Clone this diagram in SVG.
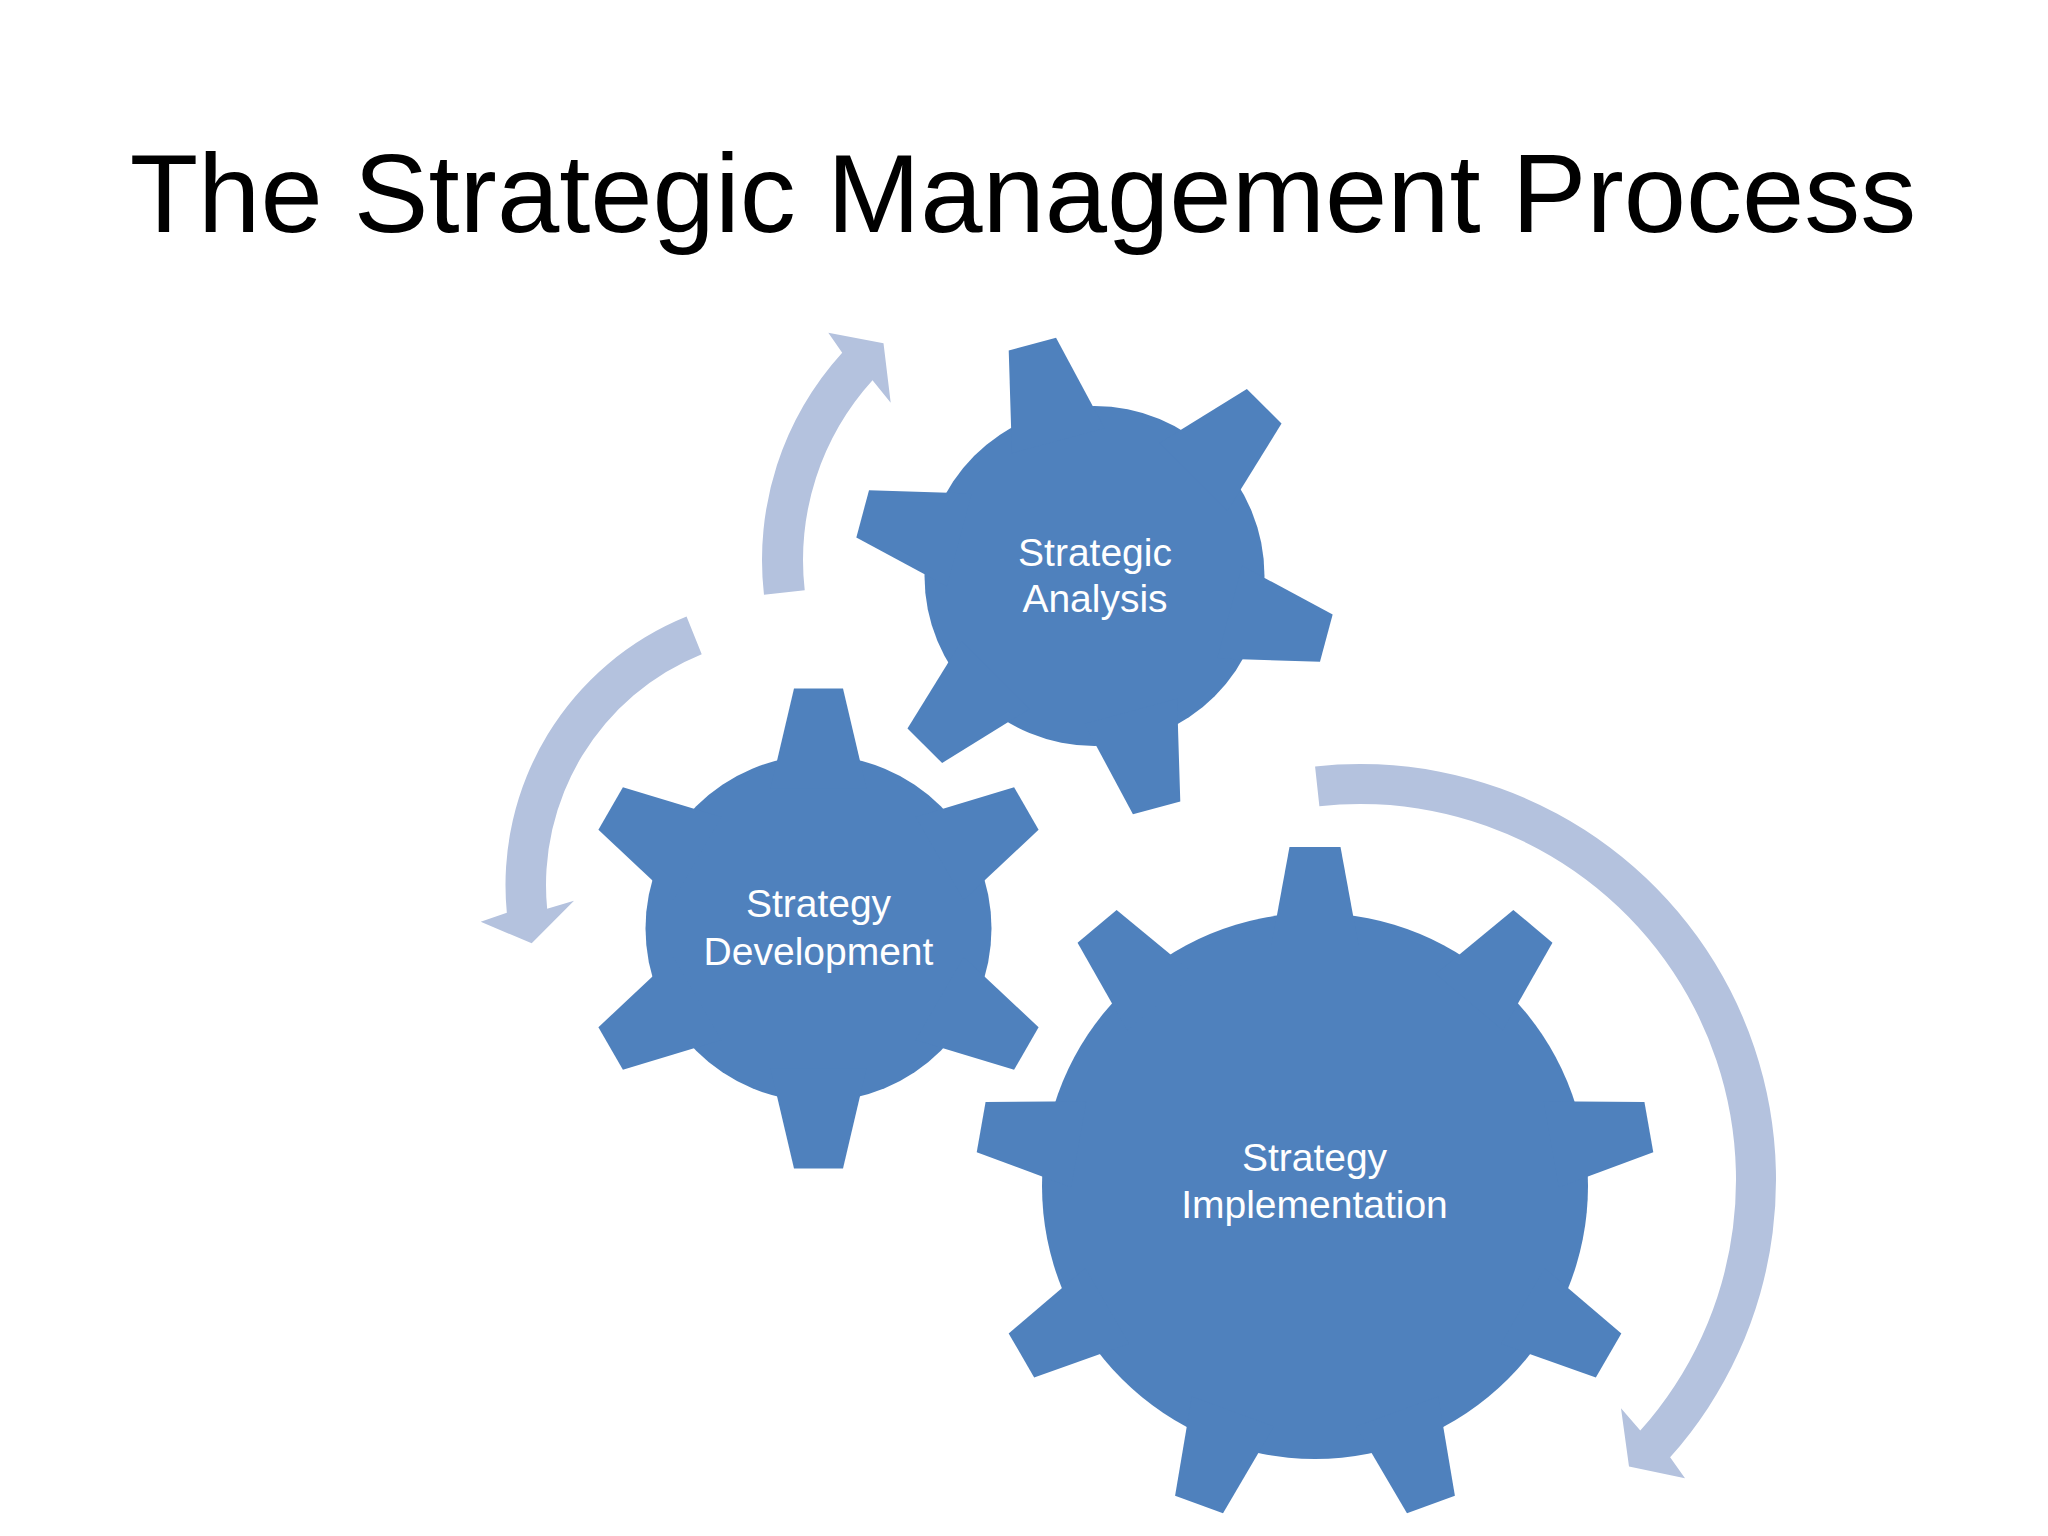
<svg xmlns="http://www.w3.org/2000/svg" xmlns:xlink="http://www.w3.org/1999/xlink" width="2048" height="1536" viewBox="0 0 2048 1536">
  <style>
    .gear { fill: #4F81BD; }
    .arrow { fill: #B4C2DE; }
    .title { font-family: "Liberation Sans", Arial, sans-serif; font-size: 112px; fill: #000000; text-anchor: middle; }
    .label { font-family: "Liberation Sans", Arial, sans-serif; font-size: 39px; fill: #FFFFFF; text-anchor: middle; }
  </style>
  <defs>
    <polygon id="toothSmall" points="-24.5,-240 24.5,-240 48,-140 -48,-140"/>
    <polygon id="toothLarge" points="-25.5,-339 25.5,-339 43.7,-240 -43.7,-240"/>
  </defs>
  <rect x="0" y="0" width="2048" height="1536" fill="#FFFFFF"/>

  <text class="title" x="1023" y="232">The Strategic Management Process</text>

  <g id="connectors">
    <path id="arrow-analysis" class="arrow" d="M763.98,594.87 A308,308 0 0 1 842.19,352.71 L828.3,332.7 L883.5,343.17 L890.7,402.7 L872.52,380.31 A267,267 0 0 0 804.72,590.22 Z"/>
    <path id="arrow-development" class="arrow" d="M686.55,616.58 A289.5,289.5 0 0 0 506.83,912.75 L480.7,921.7 L531.69,943.37 L574,900.7 L547.15,908.87 A249,249 0 0 1 701.72,654.13 Z"/>
    <path id="arrow-implementation" class="arrow" d="M1315.07,766.43 A416,416 0 0 1 1670.12,1457.28 L1685,1478.3 L1629,1466.5 L1621,1408.3 L1640.3,1430.62 A376,376 0 0 0 1319.39,806.2 Z"/>
  </g>

  <g id="gear-strategic-analysis">
    <g class="gear" transform="translate(1094.5,576)">
      <circle cx="0" cy="0" r="170"/>
      <use xlink:href="#toothSmall" transform="rotate(-15)"/>
      <use xlink:href="#toothSmall" transform="rotate(45)"/>
      <use xlink:href="#toothSmall" transform="rotate(105)"/>
      <use xlink:href="#toothSmall" transform="rotate(165)"/>
      <use xlink:href="#toothSmall" transform="rotate(225)"/>
      <use xlink:href="#toothSmall" transform="rotate(285)"/>
    </g>
    <text class="label" x="1095" y="566">Strategic</text>
    <text class="label" x="1095" y="612">Analysis</text>
  </g>

  <g id="gear-strategy-development">
    <g class="gear" transform="translate(818.5,928.5)">
      <circle cx="0" cy="0" r="173"/>
      <use xlink:href="#toothSmall" transform="rotate(0)"/>
      <use xlink:href="#toothSmall" transform="rotate(60)"/>
      <use xlink:href="#toothSmall" transform="rotate(120)"/>
      <use xlink:href="#toothSmall" transform="rotate(180)"/>
      <use xlink:href="#toothSmall" transform="rotate(240)"/>
      <use xlink:href="#toothSmall" transform="rotate(300)"/>
    </g>
    <text class="label" x="818.5" y="917">Strategy</text>
    <text class="label" x="818.5" y="965">Development</text>
  </g>

  <g id="gear-strategy-implementation">
    <g class="gear" transform="translate(1315,1186)">
      <circle cx="0" cy="0" r="273"/>
      <use xlink:href="#toothLarge" transform="rotate(0)"/>
      <use xlink:href="#toothLarge" transform="rotate(40)"/>
      <use xlink:href="#toothLarge" transform="rotate(80)"/>
      <use xlink:href="#toothLarge" transform="rotate(120)"/>
      <use xlink:href="#toothLarge" transform="rotate(160)"/>
      <use xlink:href="#toothLarge" transform="rotate(200)"/>
      <use xlink:href="#toothLarge" transform="rotate(240)"/>
      <use xlink:href="#toothLarge" transform="rotate(280)"/>
      <use xlink:href="#toothLarge" transform="rotate(320)"/>
    </g>
    <text class="label" x="1314.5" y="1171">Strategy</text>
    <text class="label" x="1314.5" y="1218">Implementation</text>
  </g>
</svg>
